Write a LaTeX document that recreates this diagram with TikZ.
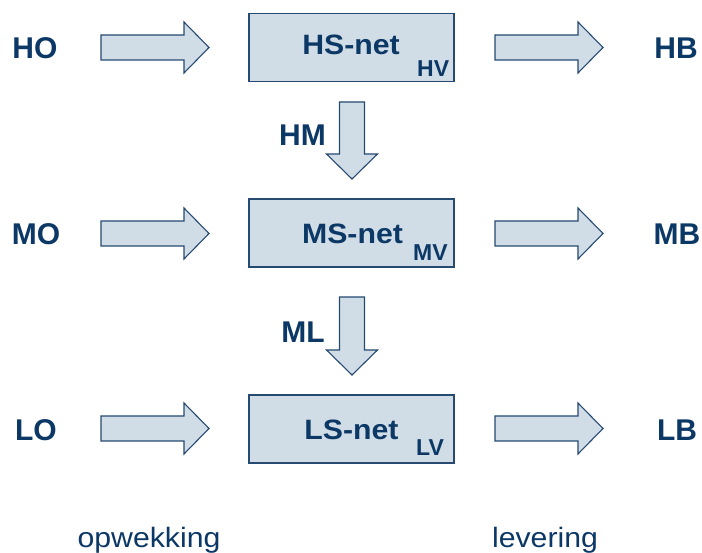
\documentclass[tikz,border=0pt]{standalone}
\usepackage{fontspec}
\setmainfont{Liberation Sans}
\newfontfamily\stsans{Liberation Sans}[FakeStretch=1.08]
\definecolor{txtblue}{RGB}{12,56,102}
\definecolor{boxfill}{RGB}{208,220,230}
\definecolor{boxline}{RGB}{38,74,114}
\begin{document}
\begin{tikzpicture}[x=1pt,y=-1pt,
  netbox/.style={draw=boxline,line width=1.2pt,fill=boxfill,rectangle,minimum width=205pt,minimum height=68pt,inner sep=0pt},
  arrowbox/.style={draw=boxline,line width=1.1pt,fill=boxfill,line join=miter},
  lbl/.style={inner sep=0pt,anchor=base,text=txtblue,font=\fontsize{30}{32}\selectfont\bfseries},
  nettxt/.style={inner sep=0pt,anchor=base,text=txtblue,font=\stsans\fontsize{28}{30}\selectfont\bfseries},
  subtxt/.style={inner sep=0pt,anchor=base west,text=txtblue,font=\fontsize{23}{25}\selectfont\bfseries},
  bottxt/.style={inner sep=0pt,anchor=base,text=txtblue,font=\stsans\fontsize{28}{30}\selectfont},
  pics/blockarrow/.style={code={
    \path[arrowbox] (0,-12.5) -- ({#1-25},-12.5) -- ({#1-25},-25.5) -- (#1,0)
      -- ({#1-25},25.5) -- ({#1-25},12.5) -- (0,12.5) -- cycle;}}
]
\useasboundingbox (0,0) rectangle (702,553);

% boxes
\node[netbox] (hs) at (351.5,47.5) {};
\node[netbox] (ms) at (351.5,233) {};
\node[netbox] (ls) at (351.5,429) {};

\node[nettxt] (hstxt) at (351,55) {HS-net};
\node[subtxt] (hssub) at (417,77) {HV};
\node[nettxt] (mstxt) at (352.5,244) {MS-net};
\node[subtxt] (mssub) at (413,261) {MV};
\node[nettxt] (lstxt) at (351.5,439) {LS-net};
\node[subtxt] (lssub) at (416,456) {LV};

% block arrows
\pic at (101,47.5) {blockarrow=108};
\pic at (495,47.5) {blockarrow=108};
\pic at (101,233.5) {blockarrow=108};
\pic at (495,233.5) {blockarrow=108};
\pic at (101,428.5) {blockarrow=108};
\pic at (495,428.5) {blockarrow=108};
\pic[rotate=-90] at (352,102) {blockarrow=77};
\pic[rotate=-90] at (352,297) {blockarrow=78};

% labels
\node[lbl] (ho) at (35,58.5) {HO};
\node[lbl] (hb) at (676,58.5) {HB};
\node[lbl] (mo) at (36,244.5) {MO};
\node[lbl] (mb) at (677,244.5) {MB};
\node[lbl] (lo) at (36,440) {LO};
\node[lbl] (lb) at (677,440) {LB};
\node[lbl] (hm) at (302.5,146) {HM};
\node[lbl] (ml) at (303,343) {ML};

\node[bottxt] (opw) at (149,547) {opwekking};
\node[bottxt] (lev) at (545,547) {levering};
\end{tikzpicture}
\end{document}
